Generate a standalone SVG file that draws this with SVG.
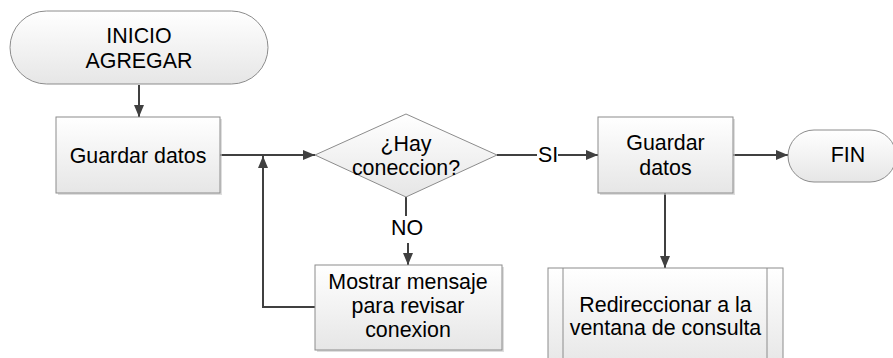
<svg xmlns="http://www.w3.org/2000/svg" width="893" height="358" viewBox="0 0 893 358">
  <style>
    .shape { fill: url(#boxFill); stroke: #8c8c8c; stroke-width: 1; }
    .shadow { fill: #c8c8c8; opacity: 0.6; }
    .inner { stroke: #8c8c8c; stroke-width: 1; fill: none; }
    .label { font-family: "Liberation Sans", Arial, sans-serif; font-size: 21.4px; fill: #000; text-anchor: middle; }
    .conn { stroke: #404040; stroke-width: 2; fill: none; }
    .arrow { marker-end: url(#arrowHead); }
  </style>
  <defs>
    <linearGradient id="boxFill" x1="0" y1="0" x2="0" y2="1">
      <stop offset="0" stop-color="#ffffff"/>
      <stop offset="1" stop-color="#e6e6e6"/>
    </linearGradient>
    <marker id="arrowHead" viewBox="0 0 12 10" refX="12" refY="5" markerWidth="12" markerHeight="10" markerUnits="userSpaceOnUse" orient="auto">
      <path d="M0,0 L12,5 L0,10 z" fill="#404040"/>
    </marker>
  </defs>
  <rect width="893" height="358" fill="#ffffff"/>

  <!-- connectors -->
  <g id="connectors">
    <line class="conn arrow" x1="139" y1="85" x2="139" y2="117"/>
    <line class="conn arrow" x1="220" y1="155" x2="315" y2="155"/>
    <polyline class="conn arrow" points="315,307 263,307 263,156"/>
    <line class="conn" x1="497" y1="155" x2="537" y2="155"/>
    <line class="conn arrow" x1="558" y1="155" x2="598" y2="155"/>
    <text class="label" x="548" y="162">SI</text>
    <line class="conn" x1="406" y1="197" x2="406" y2="216"/>
    <line class="conn arrow" x1="408" y1="243" x2="408" y2="265"/>
    <text class="label" x="407" y="235">NO</text>
    <line class="conn arrow" x1="733" y1="155" x2="788" y2="155"/>
    <line class="conn arrow" x1="665" y1="193" x2="665" y2="268"/>
  </g>

  <g id="inicio">
    <rect class="shape" x="10" y="11" width="258" height="73" rx="36.5" ry="36.5"/>
    <text class="label" x="139" y="43">INICIO</text>
    <text class="label" x="139" y="68">AGREGAR</text>
  </g>

  <g id="guardar1">
    <rect class="shadow" x="58" y="119" width="164" height="76"/>
    <rect class="shape" x="56" y="117" width="164" height="76"/>
    <text class="label" x="138" y="163">Guardar datos</text>
  </g>

  <g id="decision">
    <polygon class="shape" points="315,155 406,114 497,155 406,197"/>
    <text class="label" x="406" y="151">¿Hay</text>
    <text class="label" x="406" y="175">coneccion?</text>
  </g>

  <g id="mensaje">
    <rect class="shadow" x="317" y="267" width="187" height="85"/>
    <rect class="shape" x="315" y="265" width="187" height="85"/>
    <text class="label" x="408" y="289">Mostrar mensaje</text>
    <text class="label" x="408" y="313">para revisar</text>
    <text class="label" x="408" y="337">conexion</text>
  </g>

  <g id="guardar2">
    <rect class="shadow" x="600" y="119" width="135" height="76"/>
    <rect class="shape" x="598" y="117" width="135" height="76"/>
    <text class="label" x="665.5" y="150">Guardar</text>
    <text class="label" x="665.5" y="175">datos</text>
  </g>

  <g id="fin">
    <rect class="shape" x="788" y="130" width="108" height="52" rx="26" ry="26"/>
    <text class="label" x="848" y="162">FIN</text>
  </g>

  <g id="redireccionar">
    <rect class="shape" x="548" y="268" width="235" height="100"/>
    <line class="inner" x1="563" y1="268" x2="563" y2="368"/>
    <line class="inner" x1="767" y1="268" x2="767" y2="368"/>
    <text class="label" x="665.5" y="312">Redireccionar a la</text>
    <text class="label" x="665.5" y="335">ventana de consulta</text>
  </g>
</svg>
